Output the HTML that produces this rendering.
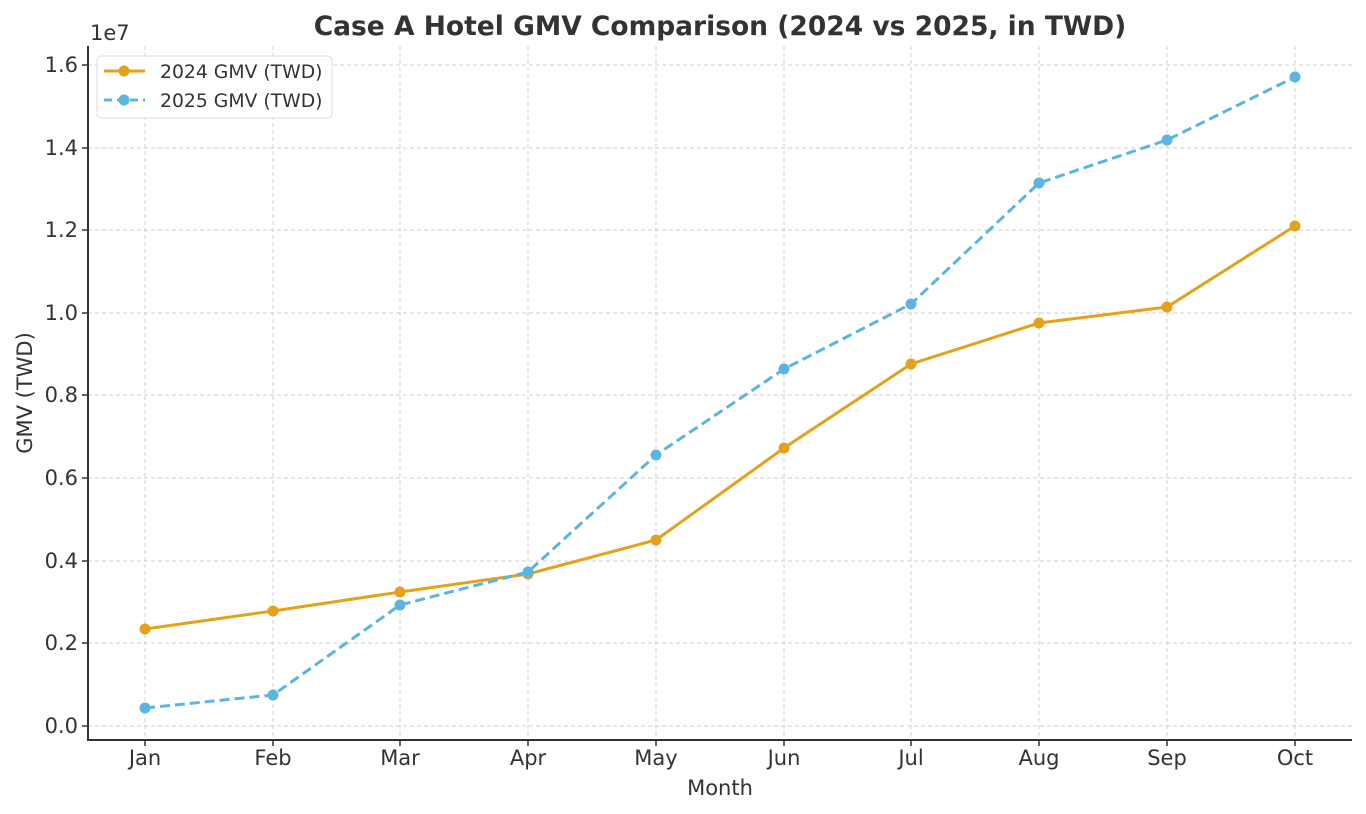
<!DOCTYPE html>
<html><head><style>body{margin:0;background:#fff}svg{display:block}</style></head><body>
<svg width="1366" height="814" xmlns="http://www.w3.org/2000/svg" font-family="DejaVu Sans, Liberation Sans, sans-serif">
<rect width="1366" height="814" fill="#fff"/>
<g stroke="#d0d0d0" stroke-width="1" stroke-dasharray="4,3">
<line x1="145" y1="46" x2="145" y2="740"/><line x1="273" y1="46" x2="273" y2="740"/><line x1="400" y1="46" x2="400" y2="740"/><line x1="528" y1="46" x2="528" y2="740"/><line x1="656" y1="46" x2="656" y2="740"/><line x1="784" y1="46" x2="784" y2="740"/><line x1="911" y1="46" x2="911" y2="740"/><line x1="1039" y1="46" x2="1039" y2="740"/><line x1="1167" y1="46" x2="1167" y2="740"/><line x1="1295" y1="46" x2="1295" y2="740"/>
<line x1="88" y1="726" x2="1352" y2="726"/><line x1="88" y1="643" x2="1352" y2="643"/><line x1="88" y1="561" x2="1352" y2="561"/><line x1="88" y1="478" x2="1352" y2="478"/><line x1="88" y1="395" x2="1352" y2="395"/><line x1="88" y1="313" x2="1352" y2="313"/><line x1="88" y1="230" x2="1352" y2="230"/><line x1="88" y1="148" x2="1352" y2="148"/><line x1="88" y1="65" x2="1352" y2="65"/>
</g>
<g stroke="#333" stroke-width="2"><line x1="88" y1="46" x2="88" y2="741"/><line x1="87" y1="740" x2="1352" y2="740"/></g>
<g stroke="#333" stroke-width="1.5">
<line x1="82" y1="726" x2="88" y2="726"/><line x1="82" y1="643" x2="88" y2="643"/><line x1="82" y1="561" x2="88" y2="561"/><line x1="82" y1="478" x2="88" y2="478"/><line x1="82" y1="395" x2="88" y2="395"/><line x1="82" y1="313" x2="88" y2="313"/><line x1="82" y1="230" x2="88" y2="230"/><line x1="82" y1="148" x2="88" y2="148"/><line x1="82" y1="65" x2="88" y2="65"/>
<line x1="145" y1="740" x2="145" y2="746"/><line x1="273" y1="740" x2="273" y2="746"/><line x1="400" y1="740" x2="400" y2="746"/><line x1="528" y1="740" x2="528" y2="746"/><line x1="656" y1="740" x2="656" y2="746"/><line x1="784" y1="740" x2="784" y2="746"/><line x1="911" y1="740" x2="911" y2="746"/><line x1="1039" y1="740" x2="1039" y2="746"/><line x1="1167" y1="740" x2="1167" y2="746"/><line x1="1295" y1="740" x2="1295" y2="746"/>
</g>
<g fill="#333" font-size="21" text-anchor="end">
<text x="78" y="733">0.0</text><text x="78" y="650">0.2</text><text x="78" y="568">0.4</text><text x="78" y="485">0.6</text><text x="78" y="402">0.8</text><text x="78" y="320">1.0</text><text x="78" y="237">1.2</text><text x="78" y="155">1.4</text><text x="78" y="72">1.6</text>
</g>
<g fill="#333" font-size="21" text-anchor="middle">
<text x="145" y="765">Jan</text><text x="273" y="765">Feb</text><text x="400" y="765">Mar</text><text x="528" y="765">Apr</text><text x="656" y="765">May</text><text x="784" y="765">Jun</text><text x="911" y="765">Jul</text><text x="1039" y="765">Aug</text><text x="1167" y="765">Sep</text><text x="1295" y="765">Oct</text>
<text x="720" y="795">Month</text>
<text x="720" y="35" font-size="26.5" font-weight="bold">Case A Hotel GMV Comparison (2024 vs 2025, in TWD)</text>
</g>
<text x="90" y="40" fill="#333" font-size="21">1e7</text>
<text transform="translate(32,393) rotate(-90)" fill="#333" font-size="21" text-anchor="middle">GMV (TWD)</text>
<polyline fill="none" stroke="#E4A11B" stroke-width="3" points="145,629 273,611 400,592 528,574 656,540 784,448 911,364 1039,323 1167,307 1295,226"/>
<g fill="#E4A11B"><circle cx="145" cy="629" r="5.5"/><circle cx="273" cy="611" r="5.5"/><circle cx="400" cy="592" r="5.5"/><circle cx="528" cy="574" r="5.5"/><circle cx="656" cy="540" r="5.5"/><circle cx="784" cy="448" r="5.5"/><circle cx="911" cy="364" r="5.5"/><circle cx="1039" cy="323" r="5.5"/><circle cx="1167" cy="307" r="5.5"/><circle cx="1295" cy="226" r="5.5"/></g>
<polyline fill="none" stroke="#5BB5E3" stroke-width="3" stroke-dasharray="10,5" points="145,708 273,695 400,605 528,572 656,455 784,369 911,304 1039,183 1167,140 1295,77"/>
<g fill="#5BB5E3"><circle cx="145" cy="708" r="5.5"/><circle cx="273" cy="695" r="5.5"/><circle cx="400" cy="605" r="5.5"/><circle cx="528" cy="572" r="5.5"/><circle cx="656" cy="455" r="5.5"/><circle cx="784" cy="369" r="5.5"/><circle cx="911" cy="304" r="5.5"/><circle cx="1039" cy="183" r="5.5"/><circle cx="1167" cy="140" r="5.5"/><circle cx="1295" cy="77" r="5.5"/></g>
<rect x="97" y="56" width="235" height="62" rx="4" fill="#fff" fill-opacity="0.85" stroke="#ddd"/>
<line x1="104" y1="71" x2="145" y2="71" stroke="#E4A11B" stroke-width="3"/><circle cx="124" cy="71" r="5.5" fill="#E4A11B"/>
<line x1="104" y1="100" x2="145" y2="100" stroke="#5BB5E3" stroke-width="3" stroke-dasharray="8,5"/><circle cx="124" cy="100" r="5.5" fill="#5BB5E3"/>
<g fill="#333" font-size="18.8"><text x="160" y="78">2024 GMV (TWD)</text><text x="160" y="107">2025 GMV (TWD)</text></g>
</svg>
</body></html>
